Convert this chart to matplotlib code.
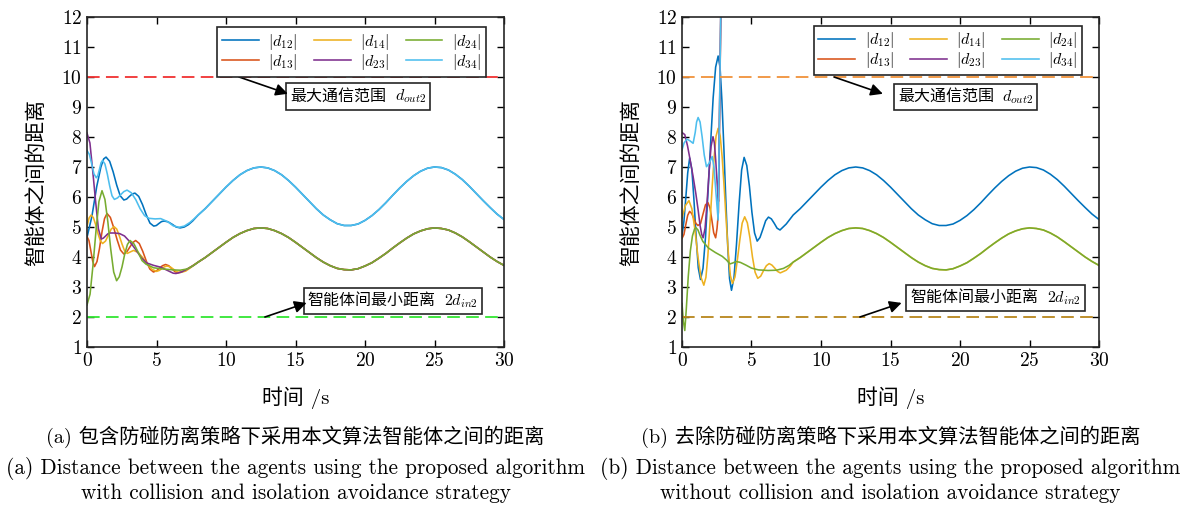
import numpy as np
import matplotlib
matplotlib.use("Agg")
import matplotlib.pyplot as plt
from matplotlib.offsetbox import TextArea, HPacker, AnnotationBbox

# -----------------------------
# Fonts
# -----------------------------
plt.rcParams["font.family"] = ["cmr10", "Noto Sans CJK SC"]
plt.rcParams["mathtext.fontset"] = "cm"
plt.rcParams["axes.unicode_minus"] = False
plt.rcParams["axes.formatter.use_mathtext"] = True

# -----------------------------
# Data
# -----------------------------
labels = [r"$|d_{12}|$", r"$|d_{13}|$", r"$|d_{14}|$",
          r"$|d_{23}|$", r"$|d_{24}|$", r"$|d_{34}|$"]
colors = ["#0072BD", "#D95319", "#EDB120", "#7E2F8E", "#77AC30", "#4DBEEE"]

# steady part, t = 8 ... 30 every 0.5 s
t_steady = np.arange(8, 30.01, 0.5)
upper_steady = [5.40, 5.61, 5.85, 6.09, 6.33, 6.55, 6.74, 6.88, 6.97, 7.00,
                6.97, 6.88, 6.74, 6.55, 6.33, 6.09, 5.85, 5.61, 5.40, 5.24,
                5.11, 5.05, 5.05, 5.10, 5.22, 5.38, 5.58, 5.81, 6.06, 6.30,
                6.52, 6.71, 6.86, 6.96, 7.00, 6.98, 6.90, 6.76, 6.58, 6.36,
                6.12, 5.88, 5.65, 5.43, 5.25]
lower_steady = [3.83, 3.98, 4.15, 4.32, 4.49, 4.65, 4.78, 4.88, 4.95, 4.97,
                4.95, 4.88, 4.78, 4.65, 4.49, 4.32, 4.15, 3.98, 3.83, 3.71,
                3.62, 3.58, 3.57, 3.61, 3.70, 3.81, 3.96, 4.12, 4.30, 4.47,
                4.63, 4.77, 4.87, 4.94, 4.97, 4.95, 4.90, 4.80, 4.67, 4.51,
                4.34, 4.17, 4.00, 3.85, 3.72]

# (a) with avoidance strategy: transient part, t < 8
a_d12_t = [0, 0.35, 0.7, 1.0, 1.2, 1.37, 1.63, 1.88, 2.14, 2.39, 2.65, 2.85, 3.05, 3.25,
           3.45, 3.72, 3.99, 4.26, 4.53, 4.8, 4.99, 5.18, 5.36, 5.55, 5.84, 6.13, 6.41,
           6.7, 7.0, 7.3, 7.6]
a_d12_v = [4.65, 5.35, 6.35, 7.0, 7.27, 7.33, 7.19, 6.84, 6.39, 6.04, 5.90, 5.93, 6.02, 6.10,
           6.13, 6.02, 5.75, 5.41, 5.13, 5.03, 5.05, 5.12, 5.18, 5.20, 5.17, 5.09, 5.00,
           4.97, 5.00, 5.08, 5.20]
a_d13_t = [0, 0.14, 0.27, 0.41, 0.54, 0.72, 0.9, 1.08, 1.26, 1.44, 1.68, 1.92, 2.17, 2.41,
           2.65, 2.86, 3.08, 3.29, 3.5, 3.76, 4.01, 4.27, 4.52, 4.78, 5.0, 5.22, 5.43,
           5.65, 5.88, 6.1, 6.33, 6.55, 7.0, 7.5]
a_d13_v = [4.68, 4.55, 4.22, 3.86, 3.68, 3.85, 4.29, 4.84, 5.28, 5.45, 5.32, 4.98, 4.57, 4.23,
           4.10, 4.17, 4.33, 4.48, 4.55, 4.45, 4.19, 3.86, 3.60, 3.50, 3.54, 3.63, 3.71,
           3.75, 3.71, 3.61, 3.51, 3.47, 3.54, 3.68]
a_d14_t = [0, 0.15, 0.3, 0.46, 0.63, 0.79, 0.96, 1.12, 1.33, 1.54, 1.74, 1.95, 2.14, 2.33,
           2.52, 2.71, 2.9, 3.12, 3.35, 3.68, 4.01, 4.34, 4.67, 5.0, 5.19, 5.38, 5.56,
           5.75, 5.99, 6.23, 6.46, 6.7, 7.1, 7.5]
a_d14_v = [5.02, 5.30, 5.40, 5.31, 5.07, 4.78, 4.54, 4.45, 4.53, 4.73, 4.93, 5.01, 4.93, 4.70,
           4.43, 4.20, 4.12, 4.17, 4.22, 4.15, 3.98, 3.76, 3.59, 3.52, 3.55, 3.61, 3.67,
           3.70, 3.67, 3.59, 3.51, 3.48, 3.53, 3.66]
a_d23_t = [0, 0.21, 0.41, 0.62, 0.82, 1.03, 1.18, 1.34, 1.49, 1.65, 2.0, 2.35, 2.7, 3.1,
           3.5, 3.9, 4.3, 4.8, 5.3, 5.8, 6.2, 6.4, 6.8, 7.3, 7.7]
a_d23_v = [8.13, 7.80, 6.88, 5.85, 4.94, 4.60, 4.63, 4.70, 4.77, 4.80, 4.80, 4.78, 4.70, 4.50,
           4.25, 3.98, 3.80, 3.72, 3.66, 3.55, 3.46, 3.45, 3.50, 3.62, 3.73]
a_d24_t = [0, 0.22, 0.43, 0.65, 0.86, 1.08, 1.29, 1.5, 1.71, 1.92, 2.13, 2.32, 2.52, 2.71,
           2.91, 3.1, 3.39, 3.68, 3.96, 4.25, 4.8, 5.5, 6.2, 6.7, 7.2, 7.6]
a_d24_v = [2.40, 2.76, 3.72, 4.89, 5.85, 6.21, 5.92, 5.17, 4.25, 3.50, 3.21, 3.34, 3.67, 4.09,
           4.42, 4.55, 4.43, 4.16, 3.88, 3.76, 3.64, 3.60, 3.57, 3.56, 3.60, 3.70]
a_d34_t = [0, 0.17, 0.34, 0.5, 0.67, 0.78, 0.9, 1.01, 1.12, 1.29, 1.46, 1.63, 1.8, 1.97,
           2.2, 2.43, 2.65, 2.88, 3.19, 3.51, 3.82, 4.14, 4.45, 4.9, 5.3, 5.8, 6.2, 6.61,
           7.0, 7.4, 7.7]
a_d34_v = [7.55, 7.42, 7.10, 6.77, 6.64, 6.72, 6.93, 7.14, 7.22, 7.10, 6.77, 6.37, 6.04, 5.92,
           5.97, 6.08, 6.18, 6.23, 6.14, 5.91, 5.61, 5.38, 5.29, 5.27, 5.28, 5.18, 5.04, 4.99,
           5.03, 5.15, 5.27]

# (b) without avoidance strategy: transient part
b_d12_t = [0, 0.14, 0.27, 0.41, 0.55, 0.71, 0.86, 1.02, 1.17, 1.33, 1.51, 1.69, 1.87, 2.06,
           2.24, 2.42, 2.6, 2.74, 2.87, 3.01, 3.15, 3.29, 3.42, 3.56, 3.74, 3.92, 4.11,
           4.29, 4.47, 4.66, 4.85, 5.03, 5.22, 5.41, 5.61, 5.82, 6.02, 6.22, 6.43, 6.64,
           6.84, 7.05, 7.5, 7.8]
b_d12_v = [4.70, 5.20, 5.95, 6.80, 7.30, 6.91, 5.90, 4.65, 3.64, 3.25, 3.62, 4.65, 6.15, 7.80,
           9.30, 10.33, 10.70, 10.31, 9.23, 7.66, 5.93, 4.36, 3.28, 2.89, 3.31, 4.42, 5.79,
           6.90, 7.32, 7.05, 6.36, 5.49, 4.80, 4.53, 4.65, 4.93, 5.21, 5.33, 5.27, 5.12,
           4.96, 4.90, 5.10, 5.28]
b_d13_t = [0, 0.14, 0.27, 0.41, 0.55, 0.7, 0.85, 1.0, 1.15, 1.33, 1.51, 1.69, 1.87, 2.01,
           2.15, 2.28, 2.42, 2.52, 2.62, 2.84]
b_d13_v = [4.62, 4.75, 5.07, 5.39, 5.52, 5.45, 5.28, 5.12, 5.05, 5.11, 5.43, 5.74, 5.81, 5.64,
           5.23, 4.81, 4.64, 4.95, 5.50, 14.0]
b_d14_t = [0, 0.25, 0.5, 0.71, 0.93, 1.14, 1.36, 1.57, 1.72, 1.86, 2.01, 2.16, 2.31, 2.45,
           2.6, 2.75, 2.89, 3.04, 3.19, 3.34, 3.48, 3.63, 3.81, 3.98, 4.16, 4.33, 4.51,
           4.7, 4.89, 5.07, 5.26, 5.45, 5.66, 5.86, 6.07, 6.27, 6.47, 6.67, 6.87, 7.07,
           7.5, 7.8]
b_d14_v = [5.30, 5.72, 5.88, 5.61, 4.91, 4.03, 3.33, 3.06, 3.32, 4.04, 5.09, 6.26, 7.31, 8.03,
           8.29, 8.03, 7.32, 6.28, 5.13, 4.09, 3.38, 3.12, 3.33, 3.89, 4.57, 5.13, 5.34,
           5.14, 4.63, 4.00, 3.49, 3.29, 3.36, 3.54, 3.71, 3.78, 3.73, 3.63, 3.52, 3.47,
           3.56, 3.70]
b_d23_t = [0, 0.2, 0.4, 0.6, 0.8, 1.0, 1.16, 1.3, 1.42, 1.52, 1.66, 1.8, 1.95, 2.09, 2.23,
           2.33, 2.43, 2.53, 2.62, 2.84]
b_d23_v = [8.15, 8.08, 7.70, 7.20, 6.68, 6.10, 5.57, 5.05, 4.75, 4.64, 4.96, 5.80, 6.85, 7.69,
           8.01, 7.80, 7.20, 6.45, 5.85, 14.0]
b_d24_t = [0, 0.1, 0.2, 0.3, 0.45, 0.6, 0.75, 0.9, 1.0, 1.15, 1.3, 1.5, 1.9, 2.4, 2.9, 3.2,
           3.45, 3.65, 3.9, 4.2, 4.6, 5.0, 5.5, 6.2, 6.8, 7.3, 7.7]
b_d24_v = [2.45, 1.85, 1.55, 2.20, 3.35, 4.20, 4.70, 4.93, 4.98, 4.90, 4.72, 4.52, 4.30, 4.15,
           4.02, 3.90, 3.77, 3.80, 3.85, 3.82, 3.73, 3.63, 3.57, 3.55, 3.56, 3.62, 3.72]
b_d34_t = [0, 0.15, 0.35, 0.55, 0.8, 0.95, 1.05, 1.16, 1.3, 1.45, 1.6, 1.76, 1.95, 2.17,
           2.3, 2.45, 2.6, 2.84]
b_d34_v = [7.57, 7.80, 7.93, 7.88, 7.79, 8.15, 8.50, 8.65, 8.50, 8.00, 7.40, 7.01, 7.12, 7.35,
           7.00, 6.10, 5.23, 14.0]

# reference distances
d_out = 10
d_in = 2

# -----------------------------
# Build series for each panel
# -----------------------------
panel_a = [
    (a_d12_t + list(t_steady), a_d12_v + upper_steady),
    (a_d13_t + list(t_steady), a_d13_v + lower_steady),
    (a_d14_t + list(t_steady), a_d14_v + lower_steady),
    (a_d23_t + list(t_steady), a_d23_v + lower_steady),
    (a_d24_t + list(t_steady), a_d24_v + lower_steady),
    (a_d34_t + list(t_steady), a_d34_v + upper_steady),
]
panel_b = [
    (b_d12_t + list(t_steady), b_d12_v + upper_steady),
    (b_d13_t, b_d13_v),
    (b_d14_t + list(t_steady), b_d14_v + lower_steady),
    (b_d23_t, b_d23_v),
    (b_d24_t + list(t_steady), b_d24_v + lower_steady),
    (b_d34_t, b_d34_v),
]

# -----------------------------
# Figure
# -----------------------------
fig = plt.figure(figsize=(11.89, 5.08), dpi=100)
ax_a = fig.add_axes([87 / 1189, 161 / 508, 417 / 1189, 330 / 508])
ax_b = fig.add_axes([682 / 1189, 161 / 508, 417 / 1189, 330 / 508])

cjk = ["cmr10", "Noto Sans CJK SC"]


def boxed_label(ax, xy, cn_text, math_text):
    # CJK part and math part packed side by side inside one frame
    cn = TextArea(cn_text, textprops=dict(family=cjk, fontsize=11.5))
    mt = TextArea(math_text, textprops=dict(fontsize=11.5))
    pack = HPacker(children=[cn, mt], align="baseline", pad=0, sep=6)
    ab = AnnotationBbox(pack, xy, xycoords="data", frameon=True, pad=0.3,
                        bboxprops=dict(boxstyle="square,pad=0.3", fc="white",
                                       ec="#262626", lw=1.2))
    ax.add_artist(ab)


def draw_panel(ax, series, out_color, in_color, out_box, in_box, legend_anchor):
    for (t, v), lab, col in zip(series, labels, colors):
        ax.plot(t, v, color=col, lw=1.15, label=lab)

    ax.axhline(d_out, color=out_color, lw=1.3, ls=(0, (7, 3.5)))
    ax.axhline(d_in, color=in_color, lw=1.3, ls=(0, (7, 3.5)))

    ax.set_xlim(0, 30)
    ax.set_ylim(1, 12)
    ax.set_xticks(range(0, 31, 5))
    ax.set_yticks(range(1, 13))
    ax.tick_params(direction="in", top=True, right=True, length=5,
                   width=1, labelsize=14)
    for s in ax.spines.values():
        s.set_linewidth(1.2)
        s.set_color("#262626")

    ax.set_xlabel("时间 /s", fontsize=15, family=cjk, va="top")
    ax.xaxis.set_label_coords(0.5, -0.12)
    ax.set_ylabel("智能体之间的距离", fontsize=15, family=cjk)
    ax.yaxis.set_label_coords(-0.098, 0.5)

    leg = ax.legend(ncol=3, loc="upper right", bbox_to_anchor=legend_anchor,
                    fontsize=11.5, handlelength=2.3, handletextpad=0.6,
                    columnspacing=1.0, labelspacing=0.0, borderpad=0.3,
                    fancybox=False, framealpha=1, edgecolor="#262626",
                    borderaxespad=0)
    leg.get_frame().set_linewidth(1.2)

    arrow = dict(arrowstyle="-|>", color="black", lw=1.2,
                 mutation_scale=18, shrinkA=0, shrinkB=0)

    boxed_label(ax, out_box, "最大通信范围", r"$d_{out2}$")
    ax.annotate("", xy=(14.45, 9.44), xytext=(10.94, d_out), arrowprops=arrow)

    boxed_label(ax, in_box, "智能体间最小距离", r"$2d_{in2}$")
    ax.annotate("", xy=(15.8, 2.47), xytext=(12.8, d_in), arrowprops=arrow)


draw_panel(ax_a, panel_a, "#F03232", "#33E633", (19.5, 9.35), (22.0, 2.53),
           (0.957, 0.969))
draw_panel(ax_b, panel_b, "#F0923A", "#B8861B", (20.4, 9.33), (22.55, 2.64),
           (0.960, 0.974))

# -----------------------------
# Captions
# -----------------------------
xa = (87 + 504) / 2 / 1189
xb = (682 + 1099) / 2 / 1189

fig.text(xa, 1 - 437 / 508, "(a) 包含防碰防离策略下采用本文算法智能体之间的距离",
         family=cjk, fontsize=14.6, ha="center", va="center")
fig.text(xb, 1 - 437 / 508, "(b) 去除防碰防离策略下采用本文算法智能体之间的距离",
         family=cjk, fontsize=14.6, ha="center", va="center")
fig.text(xa, 1 - 468 / 508, "(a) Distance between the agents using the proposed algorithm",
         fontsize=15.3, ha="center", va="center")
fig.text(xa, 1 - 493 / 508, "with collision and isolation avoidance strategy",
         fontsize=15.3, ha="center", va="center")
fig.text(xb, 1 - 468 / 508, "(b) Distance between the agents using the proposed algorithm",
         fontsize=15.3, ha="center", va="center")
fig.text(xb, 1 - 493 / 508, "without collision and isolation avoidance strategy",
         fontsize=15.3, ha="center", va="center")

fig.savefig("out.png", dpi=100)
